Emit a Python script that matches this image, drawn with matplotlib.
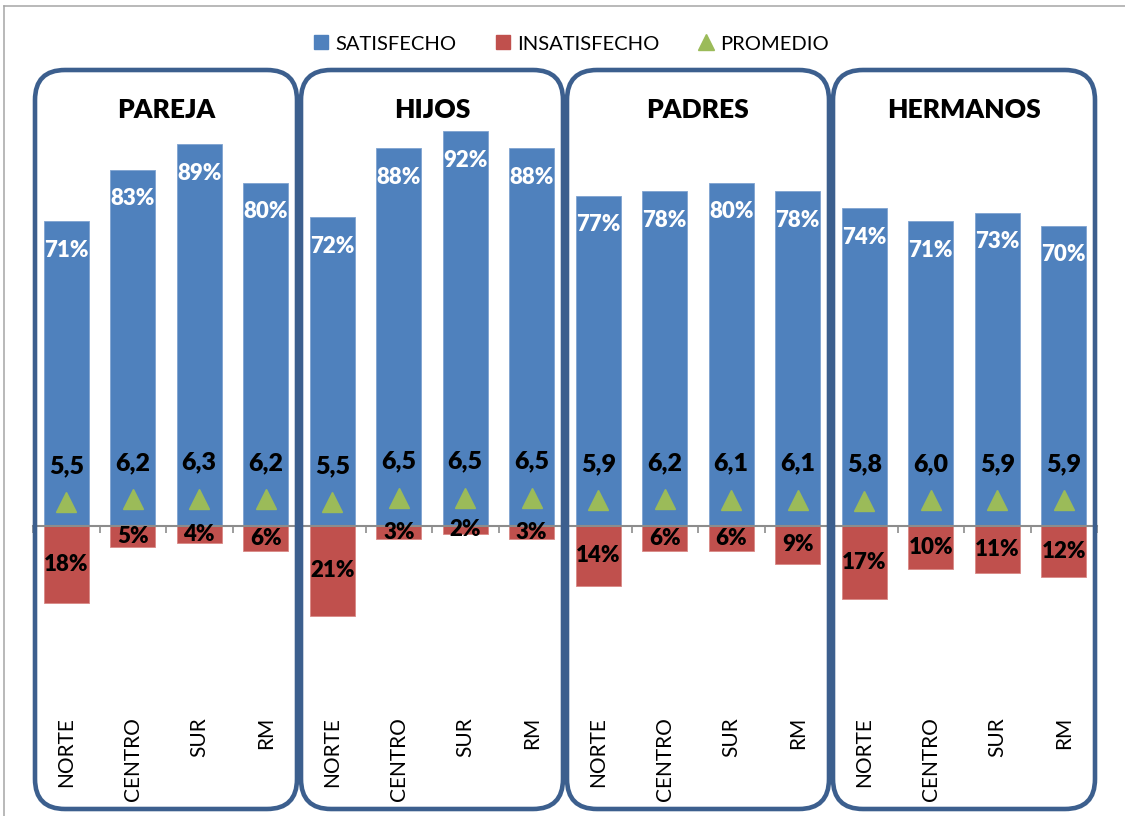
import matplotlib.pyplot as plt
import matplotlib.transforms as mtransforms
from matplotlib.patches import FancyBboxPatch
from matplotlib.lines import Line2D
import numpy as np

plt.rcParams['font.family'] = ['Lato', 'DejaVu Sans']

groups = ["PAREJA", "HIJOS", "PADRES", "HERMANOS"]
regions = ["NORTE", "CENTRO", "SUR", "RM"]
satisfecho = [71, 83, 89, 80, 72, 88, 92, 88, 77, 78, 80, 78, 74, 71, 73, 70]
insatisfecho = [18, 5, 4, 6, 21, 3, 2, 3, 14, 6, 6, 9, 17, 10, 11, 12]
promedio = [5.5, 6.2, 6.3, 6.2, 5.5, 6.5, 6.5, 6.5, 5.9, 6.2, 6.1, 6.1, 5.8, 6.0, 5.9, 5.9]

BLUE = "#4F81BD"
RED = "#C0504D"
GREEN = "#9BBB59"
BOXC = "#3C5F8E"

W, H = 1125, 816
fig = plt.figure(figsize=(W / 100, H / 100), dpi=100)
fig.set_facecolor("white")
ax = fig.add_axes([33 / W, (H - 710) / H, (1097 - 33) / W, (710 - 97) / H])

n = len(satisfecho)
x = np.arange(n)
sat = np.array(satisfecho) / 100
ins = -np.array(insatisfecho) / 100
prom = np.array(promedio) / 100

ax.bar(x, sat, width=0.67, color=BLUE, edgecolor="#7FA3D0", linewidth=0.6, zorder=2)
ax.bar(x, ins, width=0.67, color=RED, edgecolor="#D98885", linewidth=0.6, zorder=2)
ax.plot(x, prom, linestyle="none", marker="^", markersize=14, color=GREEN, zorder=4)

ax.set_xlim(-0.5, n - 0.5)
ax.set_ylim(-0.43, 1.0)

for s in ["top", "left", "right"]:
    ax.spines[s].set_visible(False)
ax.spines["bottom"].set_position(("data", 0))
ax.spines["bottom"].set_color("#8C8C8C")
ax.spines["bottom"].set_linewidth(1.5)
ax.set_yticks([])
ax.set_xticks(np.arange(n + 1) - 0.5)
ax.set_xticklabels([])
ax.tick_params(axis="x", length=5, width=1.2, color="#8C8C8C")
ax.patch.set_visible(False)

# data labels
for i in range(n):
    ax.annotate(f"{satisfecho[i]}%", (x[i], sat[i]), xytext=(0, -29),
                textcoords="offset pixels", ha="center", va="center",
                color="white", fontsize=16, fontweight="heavy", zorder=5)
    ax.text(x[i], ins[i] / 2, f"{insatisfecho[i]}%", ha="center", va="center",
            color="black", fontsize=16, fontweight="heavy", zorder=5)
    ax.annotate(f"{promedio[i]:.1f}".replace(".", ","), (x[i], prom[i]), xytext=(0, 36),
                textcoords="offset pixels", ha="center", va="center",
                color="black", fontsize=18, fontweight="heavy", zorder=5)
    ax.text(x[i], -0.0115, regions[i % 4], transform=ax.get_xaxis_transform(),
            rotation=90, ha="center", va="top", fontsize=15, color="black")

# group boxes and titles
blend = mtransforms.blended_transform_factory(ax.transData, fig.transFigure)
for g, name in enumerate(groups):
    x0 = ax.transData.transform((4 * g - 0.5, 0))[0] + 2
    x1 = ax.transData.transform((4 * g + 3.5, 0))[0] - 2
    box = FancyBboxPatch((x0, H - 809), x1 - x0, 739,
                         boxstyle="round,pad=0,rounding_size=30",
                         facecolor="none", edgecolor=BOXC, linewidth=3.3,
                         transform=mtransforms.IdentityTransform(), zorder=6)
    fig.add_artist(box)
    ax.text(4 * g + 1.5, (H - 110) / H, name, transform=blend, ha="center",
            va="center", fontsize=19, fontweight="heavy", color="black")

# outer chart frame (left and top edges only)
fig.add_artist(Line2D([4 / W, 4 / W], [0, (H - 6) / H], color="#A6A6A6",
                      linewidth=1.1, transform=fig.transFigure))
fig.add_artist(Line2D([4 / W, 1], [(H - 6) / H, (H - 6) / H], color="#A6A6A6",
                      linewidth=1.1, transform=fig.transFigure))

handles = [
    Line2D([], [], linestyle="none", marker="s", markersize=10, color=BLUE),
    Line2D([], [], linestyle="none", marker="s", markersize=10, color=RED),
    Line2D([], [], linestyle="none", marker="^", markersize=11, color=GREEN),
]
fig.legend(handles, ["SATISFECHO", "INSATISFECHO", "PROMEDIO"], loc="center",
           bbox_to_anchor=(571 / W, (H - 44) / H), ncol=3, frameon=False,
           fontsize=14.5, handlelength=0.8, handletextpad=0.3, columnspacing=1.9)

plt.savefig("out.png", dpi=100)
